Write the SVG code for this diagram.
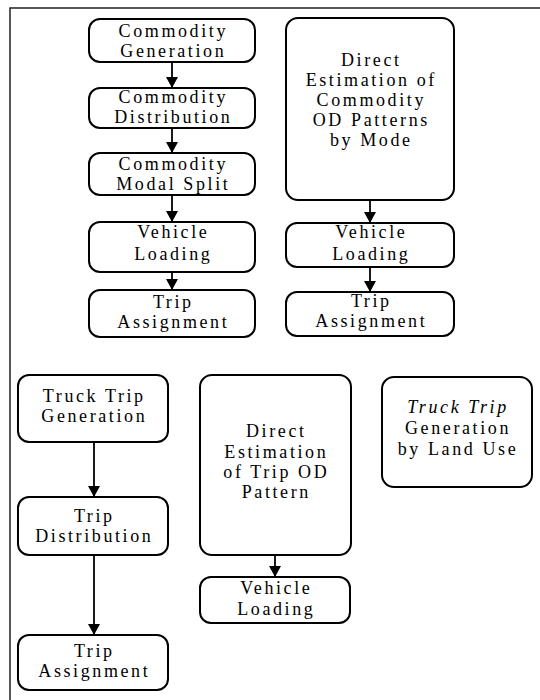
<svg xmlns="http://www.w3.org/2000/svg" width="540" height="700" viewBox="0 0 540 700">
<defs>
<style>
.box{fill:#fff;stroke:#000;stroke-width:2}
.t{font-family:"Liberation Serif","Times New Roman",serif;font-size:18px;letter-spacing:2.6px;text-anchor:middle;fill:#000}
.i{font-style:italic}
.c{stroke:#000;stroke-width:1.8;fill:none;marker-end:url(#ah)}
.frame{stroke:#222;stroke-width:1.5;fill:none}
</style>
<marker id="ah" markerUnits="userSpaceOnUse" markerWidth="14" markerHeight="14" refX="11" refY="6" orient="auto">
<path d="M0,0 L11,6 L0,12 Z" fill="#000"/>
</marker>
</defs>
<rect width="540" height="700" fill="#fff"/>
<path class="frame" d="M10,700 V8 H540"/>

<g id="connectors">
<line class="c" x1="172" y1="62" x2="172" y2="88"/>
<line class="c" x1="172" y1="128" x2="172" y2="153"/>
<line class="c" x1="172" y1="195" x2="172" y2="222"/>
<line class="c" x1="172" y1="272" x2="172" y2="290"/>
<line class="c" x1="370" y1="200" x2="370" y2="223"/>
<line class="c" x1="370" y1="267" x2="370" y2="292"/>
<line class="c" x1="94" y1="442" x2="94" y2="497"/>
<line class="c" x1="94" y1="555" x2="94" y2="635"/>
<line class="c" x1="275" y1="555" x2="275" y2="577"/>
</g>

<g id="n1"><rect class="box" x="89" y="19" width="166" height="43" rx="11"/>
<text class="t" x="173.3" y="37">Commodity</text><text class="t" x="173.3" y="57">Generation</text></g>
<g id="n2"><rect class="box" x="89" y="88" width="166" height="40" rx="11"/>
<text class="t" x="173.3" y="103">Commodity</text><text class="t" x="173.3" y="123">Distribution</text></g>
<g id="n3"><rect class="box" x="89" y="153" width="166" height="42" rx="11"/>
<text class="t" x="173.3" y="170">Commodity</text><text class="t" x="173.3" y="190">Modal Split</text></g>
<g id="n4"><rect class="box" x="89" y="222" width="166" height="50" rx="11"/>
<text class="t" x="173.3" y="238">Vehicle</text><text class="t" x="173.3" y="260">Loading</text></g>
<g id="n5"><rect class="box" x="89" y="290" width="166" height="47" rx="11"/>
<text class="t" x="173.3" y="308">Trip</text><text class="t" x="173.3" y="328">Assignment</text></g>

<g id="n6"><rect class="box" x="286" y="18" width="168" height="182" rx="12"/>
<text class="t" x="371.3" y="66">Direct</text><text class="t" x="371.3" y="86">Estimation  of</text><text class="t" x="371.3" y="106">Commodity</text><text class="t" x="371.3" y="126">OD Patterns</text><text class="t" x="371.3" y="146">by Mode</text></g>
<g id="n7"><rect class="box" x="286" y="223" width="168" height="44" rx="11"/>
<text class="t" x="371.3" y="238">Vehicle</text><text class="t" x="371.3" y="260">Loading</text></g>
<g id="n8"><rect class="box" x="286" y="292" width="168" height="44" rx="11"/>
<text class="t" x="371.3" y="307">Trip</text><text class="t" x="371.3" y="327">Assignment</text></g>

<g id="n9"><rect class="box" x="18" y="375" width="150" height="67" rx="11"/>
<text class="t" x="94.3" y="402">Truck  Trip</text><text class="t" x="94.3" y="422">Generation</text></g>
<g id="n10"><rect class="box" x="18" y="497" width="150" height="58" rx="11"/>
<text class="t" x="94.3" y="522">Trip</text><text class="t" x="94.3" y="542">Distribution</text></g>
<g id="n11"><rect class="box" x="18" y="635" width="150" height="55" rx="11"/>
<text class="t" x="94.3" y="657">Trip</text><text class="t" x="94.3" y="677">Assignment</text></g>

<g id="n12"><rect class="box" x="200" y="375" width="151" height="180" rx="12"/>
<text class="t" x="276.3" y="437">Direct</text><text class="t" x="276.3" y="458">Estimation</text><text class="t" x="276.3" y="478">of Trip OD</text><text class="t" x="276.3" y="498">Pattern</text></g>
<g id="n13"><rect class="box" x="200" y="577" width="150" height="46" rx="11"/>
<text class="t" x="276.3" y="594">Vehicle</text><text class="t" x="276.3" y="615">Loading</text></g>

<g id="n14"><rect class="box" x="382" y="377" width="150" height="110" rx="12"/>
<text class="t i" x="458" y="413">Truck  Trip</text><text class="t" x="458" y="434">Generation</text><text class="t" x="458" y="455">by Land Use</text></g>
</svg>
